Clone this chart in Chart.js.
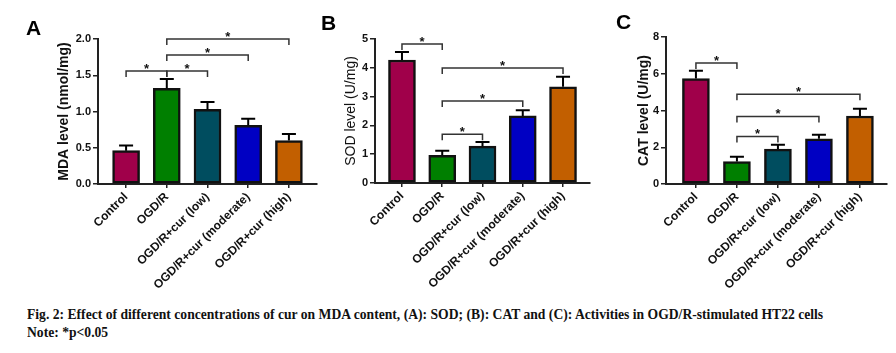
<!DOCTYPE html>
<html>
<head>
<meta charset="utf-8">
<script src="https://cdn.jsdelivr.net/npm/chart.js@4"></script>
<style>
  body { margin: 0; background: #fff; width: 896px; height: 353px; overflow: hidden; position: relative; font-family: "Liberation Sans", Arial, sans-serif; }
  canvas { position: absolute; top: 0; }
  .letter { position: absolute; font: bold 21px "Liberation Sans", Arial, sans-serif; color: #000; }
  #caption { position: absolute; left: 27px; top: 306px; font: bold 14px "Liberation Serif", "Times New Roman", serif; color: #111; line-height: 18px; white-space: nowrap; }
  #caption span { display: inline-block; transform-origin: left center; }
</style>
</head>
<body>
<canvas id="chartA" width="320" height="300" style="left:0px"></canvas>
<canvas id="chartB" width="280" height="300" style="left:320px"></canvas>
<canvas id="chartC" width="296" height="300" style="left:600px"></canvas>
<div class="letter" style="left:26px;top:16px">A</div>
<div class="letter" style="left:321px;top:11px">B</div>
<div class="letter" style="left:616px;top:10px">C</div>
<div id="caption">
  <span id="cap1">Fig. 2: Effect of different concentrations of cur on MDA content, (A): SOD; (B): CAT and (C): Activities in OGD/R-stimulated HT22 cells</span><br>
  <span id="cap2">Note: *p&lt;0.05</span>
</div>
<script>
const groups = ['Control', 'OGD/R', 'OGD/R+cur (low)', 'OGD/R+cur (moderate)', 'OGD/R+cur (high)'];
const barColors = ['#A0004A', '#007F00', '#004D5F', '#0000C3', '#C25F00'];

// MDA (A)
const mdaMean = [0.46, 1.32, 1.03, 0.81, 0.60];
const mdaSem = [0.07, 0.13, 0.10, 0.09, 0.09];
const mdaSig = [[0, 1, 1.56], [1, 2, 1.56], [1, 3, 1.78], [1, 4, 2.0]];

// SOD (B)
const sodMean = [4.27, 0.96, 1.28, 2.33, 3.34];
const sodSem = [0.28, 0.16, 0.14, 0.20, 0.35];
const sodSig = [[0, 1, 4.83], [1, 4, 3.99], [1, 3, 2.85], [1, 2, 1.69]];

// CAT (C)
const catMean = [5.74, 1.22, 1.90, 2.46, 3.70];
const catSem = [0.42, 0.26, 0.23, 0.22, 0.40];
const catSig = [[0, 1, 6.58], [1, 4, 4.89], [1, 3, 3.68], [1, 2, 2.59]];

const FONT = '"Liberation Sans", Arial, sans-serif';

// error bars (upper only) + significance brackets
const sigPlugin = {
  id: 'sig',
  afterDatasetsDraw(chart, args, opts) {
    const { ctx } = chart;
    const x = chart.scales.x, y = chart.scales.y;
    ctx.save();
    ctx.strokeStyle = '#000';
    ctx.lineWidth = 2;
    opts.mean.forEach((v, i) => {
      const px = x.getPixelForValue(i);
      const top = y.getPixelForValue(v + opts.sem[i]);
      ctx.beginPath();
      ctx.moveTo(px, y.getPixelForValue(v));
      ctx.lineTo(px, top);
      ctx.moveTo(px - 7, top);
      ctx.lineTo(px + 7, top);
      ctx.stroke();
    });
    ctx.strokeStyle = '#333';
    ctx.lineWidth = 1.5;
    ctx.fillStyle = '#111';
    ctx.font = 'bold 13px ' + FONT;
    ctx.textAlign = 'center';
    ctx.textBaseline = 'alphabetic';
    opts.brackets.forEach(([a, b, lvl]) => {
      const x1 = x.getPixelForValue(a), x2 = x.getPixelForValue(b);
      const py = y.getPixelForValue(lvl);
      ctx.beginPath();
      ctx.moveTo(x1, py + 6);
      ctx.lineTo(x1, py);
      ctx.lineTo(x2, py);
      ctx.lineTo(x2, py + 6);
      ctx.stroke();
      ctx.fillText('*', (x1 + x2) / 2, py + 2);
    });
    ctx.restore();
  }
};

function makeChart(id, cfg) {
  return new Chart(document.getElementById(id), {
    type: 'bar',
    data: {
      datasets: [{
        data: cfg.mean.map((v, i) => ({ x: i, y: v })),
        backgroundColor: barColors,
        borderColor: '#111',
        borderWidth: 2.5,
        borderSkipped: false,
        barThickness: 27
      }]
    },
    options: {
      responsive: false,
      animation: false,
      layout: { padding: { top: cfg.top, right: cfg.right, bottom: 0, left: 0 } },
      plugins: {
        legend: { display: false },
        tooltip: { enabled: false },
        sig: { mean: cfg.mean, sem: cfg.sem, brackets: cfg.brackets }
      },
      scales: {
        x: {
          type: 'linear',
          offset: false,
          min: cfg.xmin,
          max: cfg.xmax,
          afterBuildTicks: (s) => { s.ticks = groups.map((g, i) => ({ value: i })); },
          afterFit: (s) => { s.height = 300 - cfg.top - cfg.plotH; },
          ticks: {
            callback: (v) => groups[v],
            minRotation: 45,
            maxRotation: 45,
            autoSkip: false,
            padding: 2,
            color: '#111',
            font: { family: FONT, size: 12, weight: 'bold' }
          },
          grid: { display: true, offset: false, drawOnChartArea: false, drawTicks: true, tickLength: 4, color: '#222', lineWidth: 1.5 },
          border: { display: true, color: '#222', width: 2 }
        },
        y: {
          min: 0,
          max: cfg.ymax,
          afterFit: (s) => { s.width = cfg.yw; },
          ticks: {
            stepSize: cfg.step,
            callback: cfg.fmt,
            padding: 2,
            color: '#111',
            font: { family: FONT, size: 11, weight: 'bold' }
          },
          grid: { display: true, drawOnChartArea: false, drawTicks: true, tickLength: 5, color: '#222', lineWidth: 1.5 },
          border: { display: true, color: '#222', width: 2 },
          title: {
            display: true,
            text: cfg.title,
            color: '#111',
            padding: { top: cfg.titlePad, bottom: 0 },
            font: { family: FONT, size: 14, weight: cfg.titleBold ? 'bold' : 'normal' }
          }
        }
      }
    },
    plugins: [sigPlugin]
  });
}

makeChart('chartA', {
  mean: mdaMean, sem: mdaSem, brackets: mdaSig,
  top: 39, plotH: 145, right: 3, yw: 98, xmin: -0.69, xmax: 4.69,
  ymax: 2, step: 0.5, fmt: (v) => v.toFixed(1),
  title: 'MDA level (nmol/mg)', titleBold: true, titlePad: 56
});
makeChart('chartB', {
  mean: sodMean, sem: sodSem, brackets: sodSig,
  top: 39, plotH: 144, right: 10, yw: 55, xmin: -0.67, xmax: 4.67,
  ymax: 5, step: 1, fmt: (v) => v,
  title: 'SOD level (U/mg)', titleBold: false, titlePad: 23
});
makeChart('chartC', {
  mean: catMean, sem: catSem, brackets: catSig,
  top: 37, plotH: 147, right: 9, yw: 66, xmin: -0.73, xmax: 4.66,
  ymax: 8, step: 2, fmt: (v) => v,
  title: 'CAT level (U/mg)', titleBold: true, titlePad: 36
});

// fit caption line to the reference width
const cap1 = document.getElementById('cap1');
const k = 796 / cap1.getBoundingClientRect().width;
document.querySelectorAll('#caption span').forEach((s) => { s.style.transform = 'scaleX(' + k.toFixed(3) + ')'; });
</script>
</body>
</html>
